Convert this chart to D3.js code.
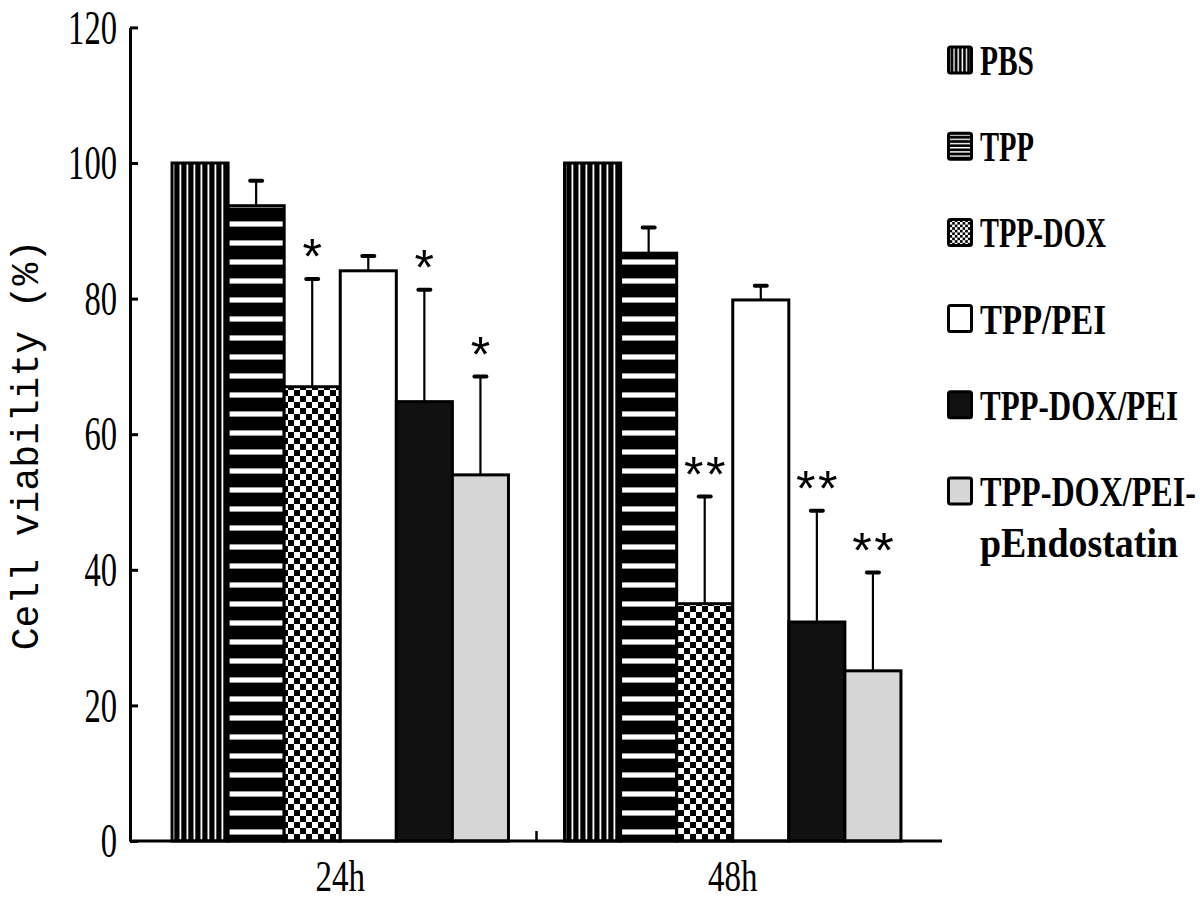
<!DOCTYPE html>
<html>
<head>
<meta charset="utf-8">
<script src="https://cdn.jsdelivr.net/npm/d3@7"></script>
<style>
  html, body { margin: 0; padding: 0; background: #fff; }
  svg { display: block; }
</style>
</head>
<body>
<svg id="chart" width="1200" height="901"></svg>
<script>
// ---- data ----
const groups = ["24h", "48h"];
const series = ["PBS", "TPP", "TPP-DOX", "TPP/PEI", "TPP-DOX/PEI", "TPP-DOX/PEI-pEndostatin"];
const means24 = [100, 93.7, 67.0, 84.1, 64.8, 54.0];
const sd24    = [0, 3.7, 15.9, 2.2, 16.5, 14.5];
const means48 = [100, 86.7, 35.0, 79.8, 32.3, 25.1];
const sd48    = [0, 3.8, 15.8, 2.1, 16.4, 14.5];
const sig24 = ["", "", "*", "", "*", "*"];
const sig48 = ["", "", "**", "", "**", "**"];
const yTicks = [0, 20, 40, 60, 80, 100, 120];
const legendLines = [["PBS"], ["TPP"], ["TPP-DOX"], ["TPP/PEI"], ["TPP-DOX/PEI"], ["TPP-DOX/PEI-", "pEndostatin"]];
const yTitle = "Cell viability (%)";

const rows = [];
groups.forEach((g, gi) => {
  const m = gi === 0 ? means24 : means48;
  const s = gi === 0 ? sd24 : sd48;
  const sg = gi === 0 ? sig24 : sig48;
  series.forEach((name, i) => rows.push({ group: g, name, i, mean: m[i], sd: s[i], sig: sg[i] }));
});

// ---- setup ----
const svg = d3.select("#chart");
const defs = svg.append("defs");

function vertPattern(id, period, white) {
  const p = defs.append("pattern").attr("id", id).attr("patternUnits", "userSpaceOnUse")
    .attr("width", period).attr("height", 10);
  p.append("rect").attr("width", period).attr("height", 10).attr("fill", "#000");
  p.append("rect").attr("x", period - white - 0.7).attr("width", white).attr("height", 10).attr("fill", "#fff");
}
function horzPattern(id, period, white, edge) {
  const p = defs.append("pattern").attr("id", id).attr("patternUnits", "userSpaceOnUse")
    .attr("width", 10).attr("height", period);
  p.append("rect").attr("width", 10).attr("height", period).attr("fill", "#000");
  if (edge) p.append("rect").attr("y", period - white - 3).attr("width", 10).attr("height", white + 2).attr("fill", "#999");
  p.append("rect").attr("y", period - white - 2).attr("width", 10).attr("height", white).attr("fill", "#fff");
}
function checkPattern(id, cell) {
  const p = defs.append("pattern").attr("id", id).attr("patternUnits", "userSpaceOnUse")
    .attr("width", cell * 2).attr("height", cell * 2);
  p.append("rect").attr("width", cell * 2).attr("height", cell * 2).attr("fill", "#fff");
  p.append("rect").attr("width", cell).attr("height", cell).attr("fill", "#000");
  p.append("rect").attr("x", cell).attr("y", cell).attr("width", cell).attr("height", cell).attr("fill", "#000");
}
vertPattern("pVert", 7, 1.8);
horzPattern("pHorz", 19, 4, true);
checkPattern("pCheck", 6);
vertPattern("pVertS", 4.2, 1.4);
horzPattern("pHorzS", 4.2, 1.4, false);
checkPattern("pCheckS", 2.6);

const fills = ["url(#pVert)", "url(#pHorz)", "url(#pCheck)", "#ffffff", "#111111", "#d6d6d6"];
const legFills = ["url(#pVertS)", "url(#pHorzS)", "url(#pCheckS)", "#ffffff", "#111111", "#d6d6d6"];
const fillOf = d3.scaleOrdinal().domain(series).range(fills);
const legFillOf = d3.scaleOrdinal().domain(series).range(legFills);

const y = d3.scaleLinear().domain([0, 120]).range([841, 27.4]);
const x0 = d3.scaleBand().domain(groups).range([144, 929]);
const x1 = d3.scaleBand().domain(series).range([0, x0.bandwidth()]).paddingOuter(0.5).paddingInner(0);

const monoFont = "'Liberation Mono', 'DejaVu Sans Mono', monospace";
const serifFont = "'Liberation Serif', 'DejaVu Serif', serif";

// ---- bars ----
const gBars = svg.append("g");
gBars.selectAll("rect.bar").data(rows).join("rect")
  .attr("class", "bar")
  .attr("x", d => x0(d.group) + x1(d.name))
  .attr("y", d => y(d.mean))
  .attr("width", x1.bandwidth())
  .attr("height", d => y(0) - y(d.mean))
  .attr("fill", d => fillOf(d.name))
  .attr("stroke", "#000")
  .attr("stroke-width", 3);

// ---- error bars ----
const eb = rows.filter(d => d.sd > 0);
const cx = d => x0(d.group) + x1(d.name) + x1.bandwidth() / 2;
svg.append("g").selectAll("line.err").data(eb).join("line")
  .attr("x1", cx).attr("x2", cx)
  .attr("y1", d => y(d.mean)).attr("y2", d => y(d.mean + d.sd))
  .attr("stroke", "#000").attr("stroke-width", 2.2);
svg.append("g").selectAll("line.cap").data(eb).join("line")
  .attr("x1", d => cx(d) - 6).attr("x2", d => cx(d) + 6)
  .attr("y1", d => y(d.mean + d.sd)).attr("y2", d => y(d.mean + d.sd))
  .attr("stroke", "#000").attr("stroke-width", 4).attr("stroke-linecap", "round");

// ---- significance marks ----
svg.append("g").selectAll("text.sig").data(rows.filter(d => d.sig)).join("text")
  .attr("x", cx)
  .attr("dx", -4)
  .attr("y", d => y(d.mean + d.sd) - 4)
  .attr("text-anchor", "middle")
  .attr("font-family", monoFont)
  .attr("font-size", 50)
  .attr("letter-spacing", -8)
  .attr("fill", "#000")
  .text(d => d.sig);

// ---- y axis ----
const yAxis = d3.axisLeft(y).tickValues(yTicks).tickSize(-8).tickSizeOuter(0).tickPadding(13);
const gy = svg.append("g").attr("transform", "translate(130,0)").call(yAxis);
gy.select(".domain").attr("stroke-width", 3);
gy.selectAll(".tick line").attr("stroke-width", 3);
gy.selectAll(".tick text")
  .attr("font-family", serifFont)
  .attr("font-size", 30)
  .attr("fill", "#000")
  .attr("dy", null)
  .attr("y", 0)
  .attr("textLength", d => String(d).length * 16.3)
  .attr("lengthAdjust", "spacingAndGlyphs")
  .attr("transform", "translate(0,15.6) scale(1,1.6)");

// ---- x axis ----
svg.append("line")
  .attr("x1", 130).attr("x2", 942)
  .attr("y1", y(0)).attr("y2", y(0))
  .attr("stroke", "#000").attr("stroke-width", 3);
// boundary tick between groups
svg.append("line")
  .attr("x1", x0(groups[1])).attr("x2", x0(groups[1]))
  .attr("y1", y(0)).attr("y2", y(0) - 10)
  .attr("stroke", "#000").attr("stroke-width", 2.5);
const xAxis = d3.axisBottom(x0).tickSize(0).tickPadding(0);
const gx = svg.append("g").attr("transform", `translate(0,${y(0)})`).call(xAxis);
gx.select(".domain").remove();
gx.selectAll(".tick text")
  .attr("font-family", serifFont)
  .attr("font-size", 30)
  .attr("fill", "#000")
  .attr("dy", null)
  .attr("y", 0)
  .attr("textLength", d => String(d).length * 16.5)
  .attr("lengthAdjust", "spacingAndGlyphs")
  .attr("transform", "translate(0,50) scale(1,1.47)");

// ---- y title ----
svg.append("text")
  .attr("transform", "translate(38,445) rotate(-90)")
  .attr("text-anchor", "middle")
  .attr("font-family", monoFont)
  .attr("font-size", 38)
  .attr("fill", "#000")
  .text(yTitle);

// ---- legend ----
const legY = d => 60 + d * 86.2;
const leg = svg.append("g").selectAll("g").data(series).join("g")
  .attr("transform", (d, i) => `translate(947,${legY(i)})`);
leg.append("rect")
  .attr("x", 1.5).attr("y", -13).attr("width", 23).attr("height", 26)
  .attr("rx", 2)
  .attr("fill", d => legFillOf(d))
  .attr("stroke", "#000").attr("stroke-width", 3);
leg.each(function(d, i) {
  const g = d3.select(this);
  legendLines[i].forEach((line, li) => {
    g.append("text")
      .attr("transform", `translate(33,${15 + li * 51}) scale(1,1.4)`)
      .attr("font-family", serifFont)
      .attr("font-weight", "bold")
      .attr("font-size", 30)
      .attr("textLength", line.length * 18)
      .attr("lengthAdjust", "spacingAndGlyphs")
      .attr("fill", "#000")
      .text(line);
  });
});
</script>
</body>
</html>
